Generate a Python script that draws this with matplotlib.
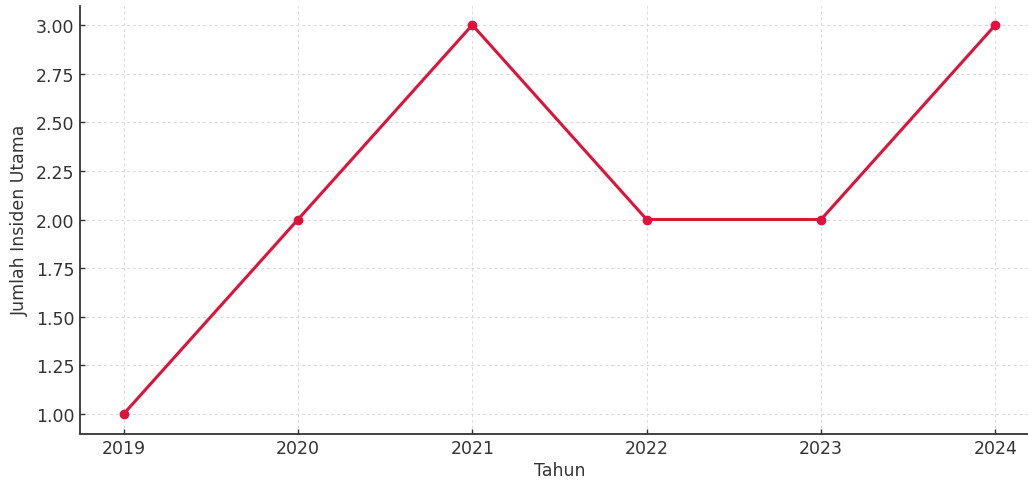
import matplotlib
matplotlib.use("Agg")
import matplotlib.pyplot as plt

years = [2019, 2020, 2021, 2022, 2023, 2024]
incidents = [1, 2, 3, 2, 2, 3]

fig = plt.figure(figsize=(10.28, 4.81), dpi=100)
ax = fig.add_axes([80/1028, (481-434.5)/481, 959/1028, 428/481])
ax.plot(years, incidents, color="#DC143C", linewidth=2.2, marker="o", markersize=6)
ax.set_xticks(years)
ax.set_yticks([1.0, 1.25, 1.5, 1.75, 2.0, 2.25, 2.5, 2.75, 3.0])
ax.yaxis.set_major_formatter(matplotlib.ticker.FormatStrFormatter("%.2f"))
ax.set_xlim(2018.75, 2024.25)
ax.set_ylim(0.9, 3.1)
ax.grid(True, linestyle=(0, (3, 3)), color="#d9d9d9", linewidth=0.7)
for s in ["top", "right"]:
    ax.spines[s].set_visible(False)
for s in ["left", "bottom"]:
    ax.spines[s].set_color("#333333")
    ax.spines[s].set_linewidth(1.3)
ax.tick_params(direction="in", length=3.5, width=1, colors="#333333", labelsize=12.5,
               labelcolor="#333333", pad=4)
ax.set_xlabel("Tahun", fontsize=12.5, color="#333333", labelpad=3)
ax.set_ylabel("Jumlah Insiden Utama", fontsize=12.5, color="#333333", labelpad=5)
fig.savefig("out.png", dpi=100)
